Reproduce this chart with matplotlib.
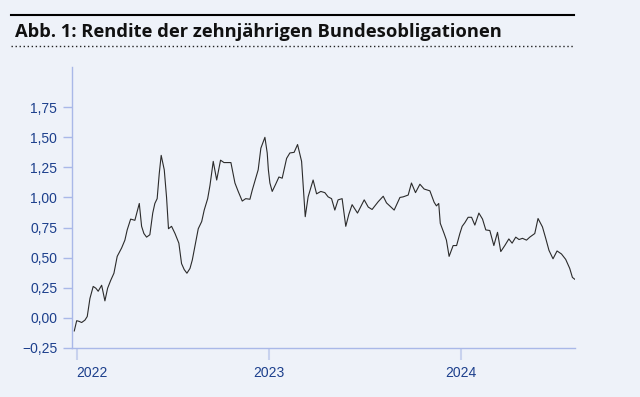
import matplotlib.pyplot as plt
from matplotlib.lines import Line2D

# yield of 10-year Swiss federal bonds (in %)
# time as decimal year
years = [2021.9875, 2022.000, 2022.012, 2022.026, 2022.043, 2022.055, 2022.069, 2022.086,
         2022.100, 2022.112, 2022.130, 2022.147, 2022.161, 2022.177, 2022.194, 2022.211,
         2022.234, 2022.251, 2022.263, 2022.281, 2022.303, 2022.326, 2022.338, 2022.350,
         2022.364, 2022.381, 2022.396, 2022.407, 2022.419, 2022.430, 2022.440, 2022.456,
         2022.468, 2022.478, 2022.494, 2022.512, 2022.532, 2022.546, 2022.560, 2022.574,
         2022.590, 2022.602, 2022.619, 2022.633, 2022.651, 2022.664, 2022.682, 2022.694,
         2022.711, 2022.729, 2022.749, 2022.767, 2022.803, 2022.824, 2022.841, 2022.862,
         2022.880, 2022.902, 2022.914, 2022.932, 2022.945, 2022.959, 2022.980, 2022.992,
         2022.998, 2023.006, 2023.018, 2023.036, 2023.053, 2023.070, 2023.093, 2023.110,
         2023.132, 2023.150, 2023.171, 2023.181, 2023.190, 2023.205, 2023.231, 2023.249,
         2023.271, 2023.292, 2023.309, 2023.327, 2023.344, 2023.361, 2023.382, 2023.401,
         2023.417, 2023.434, 2023.462, 2023.497, 2023.518, 2023.538, 2023.570, 2023.596,
         2023.613, 2023.653, 2023.683, 2023.700, 2023.726, 2023.743, 2023.764, 2023.787,
         2023.809, 2023.839, 2023.861, 2023.873, 2023.885, 2023.893, 2023.913, 2023.925,
         2023.939, 2023.960, 2023.978, 2023.995, 2024.007, 2024.021, 2024.038, 2024.056,
         2024.073, 2024.094, 2024.113, 2024.130, 2024.151, 2024.172, 2024.191, 2024.208,
         2024.229, 2024.250, 2024.267, 2024.286, 2024.303, 2024.321, 2024.342, 2024.359,
         2024.385, 2024.402, 2024.425, 2024.442, 2024.459, 2024.480, 2024.501, 2024.524,
         2024.546, 2024.567, 2024.581, 2024.593]
yld = [-0.11, -0.025, -0.03, -0.04, -0.02, 0.01, 0.16, 0.26,
       0.245, 0.22, 0.27, 0.14, 0.245, 0.31, 0.37, 0.51,
       0.58, 0.645, 0.73, 0.82, 0.81, 0.95, 0.76, 0.70,
       0.67, 0.69, 0.87, 0.95, 0.99, 1.20, 1.35, 1.23,
       1.00, 0.74, 0.76, 0.70, 0.62, 0.45, 0.40, 0.37,
       0.41, 0.48, 0.62, 0.74, 0.80, 0.895, 0.99, 1.10,
       1.30, 1.145, 1.31, 1.29, 1.29, 1.12, 1.05, 0.97,
       0.99, 0.985, 1.06, 1.16, 1.23, 1.41, 1.50, 1.37,
       1.23, 1.12, 1.05, 1.11, 1.17, 1.16, 1.325, 1.37,
       1.375, 1.44, 1.30, 1.06, 0.84, 1.005, 1.145, 1.03,
       1.05, 1.04, 1.005, 0.99, 0.895, 0.98, 0.99, 0.76,
       0.86, 0.94, 0.87, 0.98, 0.92, 0.90, 0.965, 1.01,
       0.955, 0.895, 1.00, 1.005, 1.02, 1.12, 1.04, 1.11,
       1.07, 1.055, 0.96, 0.93, 0.95, 0.785, 0.70, 0.645,
       0.51, 0.60, 0.60, 0.70, 0.76, 0.79, 0.835, 0.835,
       0.77, 0.87, 0.82, 0.73, 0.725, 0.60, 0.71, 0.55,
       0.60, 0.655, 0.62, 0.67, 0.65, 0.66, 0.645, 0.67,
       0.70, 0.825, 0.755, 0.66, 0.56, 0.49, 0.555, 0.53,
       0.485, 0.41, 0.335, 0.32]

ytick_vals = [-0.25, 0.0, 0.25, 0.5, 0.75, 1.0, 1.25, 1.5, 1.75]
xtick_vals = [2022, 2023, 2024]
xtick_labels = ['2022', '2023', '2024']
title = 'Abb. 1: Rendite der zehnjährigen Bundesobligationen'

bg = '#eef2f9'
axis_col = '#a9b8e8'
label_col = '#1c3f8c'

plt.rcParams['font.family'] = ['Liberation Sans', 'DejaVu Sans']

fig = plt.figure(figsize=(6.4, 3.97), dpi=100, facecolor=bg)
ax = fig.add_axes([0.112, 0.124, 0.786, 0.707], facecolor=bg)

ax.plot(years, yld, color='#2b2b2b', lw=0.8)

ax.set_xlim(2021.974, 2024.593)
ax.set_ylim(-0.25, 2.084)

for s in ['top', 'right']:
    ax.spines[s].set_visible(False)
for s in ['left', 'bottom']:
    ax.spines[s].set_color(axis_col)
    ax.spines[s].set_linewidth(1.0)

ax.set_yticks(ytick_vals)
ax.set_yticklabels([f'{v:.2f}'.replace('.', ',').replace('-', '\u2212') for v in ytick_vals])
ax.set_xticks(xtick_vals)
ax.set_xticklabels(xtick_labels)
ax.tick_params(axis='y', length=6.3, width=1.0, color=axis_col, pad=4,
               labelsize=10, labelcolor=label_col)
ax.tick_params(axis='x', length=8.8, width=1.5, color='#c8d2ee', pad=4.5,
               labelsize=10, labelcolor=label_col)
ax.get_xticklabels()[0].set_ha('left')

# header: solid rule, bold title, dotted rule
fig.add_artist(Line2D([0.0172, 0.8969], [0.9622, 0.9622], color='black', lw=1.5))
fig.add_artist(Line2D([0.0172, 0.8969], [0.8849, 0.8849], color='#222222', lw=1.0,
                      linestyle=(0, (1, 1.9))))
fig.text(0.023, 0.9076, title, fontsize=13.2, fontweight='bold', va='baseline',
         family=['Open Sans', 'DejaVu Sans'], color='#111111')

plt.savefig('out.png', dpi=100, facecolor=bg)
